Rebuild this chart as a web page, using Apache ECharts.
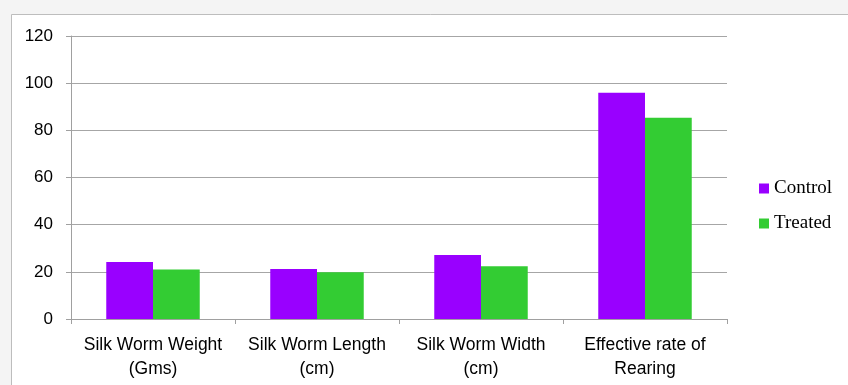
<!DOCTYPE html>
<html>
<head>
<meta charset="utf-8">
<script src="https://cdn.jsdelivr.net/npm/echarts@6/dist/echarts.min.js"></script>
<style>
html,body{margin:0;padding:0;background:#f4f4f4;}
#chart{width:848px;height:385px;}
</style>
</head>
<body>
<div id="chart"></div>
<script>
var categories = ['Silk Worm Weight\n(Gms)', 'Silk Worm Length\n(cm)', 'Silk Worm Width\n(cm)', 'Effective rate of\nRearing'];
var controlValues = [24.2, 21.2, 27.1, 95.9];
var treatedValues = [21.0, 19.8, 22.4, 85.3];
var seriesNames = ['Control', 'Treated'];

var chart = echarts.init(document.getElementById('chart'), null, {renderer: 'canvas'});
chart.setOption({
  backgroundColor: '#f4f4f4',
  animation: false,
  graphic: [{
    type: 'rect', z: -10, silent: true,
    shape: {x: 11.5, y: 14.5, width: 900, height: 500},
    style: {fill: '#ffffff', stroke: '#bdbdbd', lineWidth: 1}
  }],
  grid: {left: 71, right: 121, top: 36, bottom: 66, containLabel: false},
  legend: {
    orient: 'vertical',
    left: 754, top: 174,
    itemWidth: 10, itemHeight: 10, itemGap: 16,
    icon: 'rect',
    textStyle: {fontFamily: 'Liberation Serif', fontSize: 19, color: '#000'},
    data: seriesNames
  },
  xAxis: {
    type: 'category',
    data: categories,
    axisLine: {lineStyle: {color: '#a0a0a0', width: 1}},
    axisTick: {show: true, length: 5, alignWithLabel: false, lineStyle: {color: '#a0a0a0'}},
    axisLabel: {margin: 14, fontFamily: 'Liberation Sans', fontSize: 17.5, color: '#000', lineHeight: 24, interval: 0}
  },
  yAxis: {
    type: 'value',
    min: 0, max: 120, interval: 20,
    axisLine: {show: true, lineStyle: {color: '#a0a0a0', width: 1}},
    axisTick: {show: true, length: 5, lineStyle: {color: '#a0a0a0'}},
    splitLine: {show: true, lineStyle: {color: '#a6a6a6', width: 1}},
    axisLabel: {margin: 18, fontFamily: 'Liberation Sans', fontSize: 17, color: '#000'}
  },
  series: [
    {name: seriesNames[0], type: 'bar', data: controlValues, barGap: '0%', barCategoryGap: '43%', itemStyle: {color: '#9900ff'}},
    {name: seriesNames[1], type: 'bar', data: treatedValues, barGap: '0%', barCategoryGap: '43%', itemStyle: {color: '#33cc33'}}
  ]
});
</script>
</body>
</html>
